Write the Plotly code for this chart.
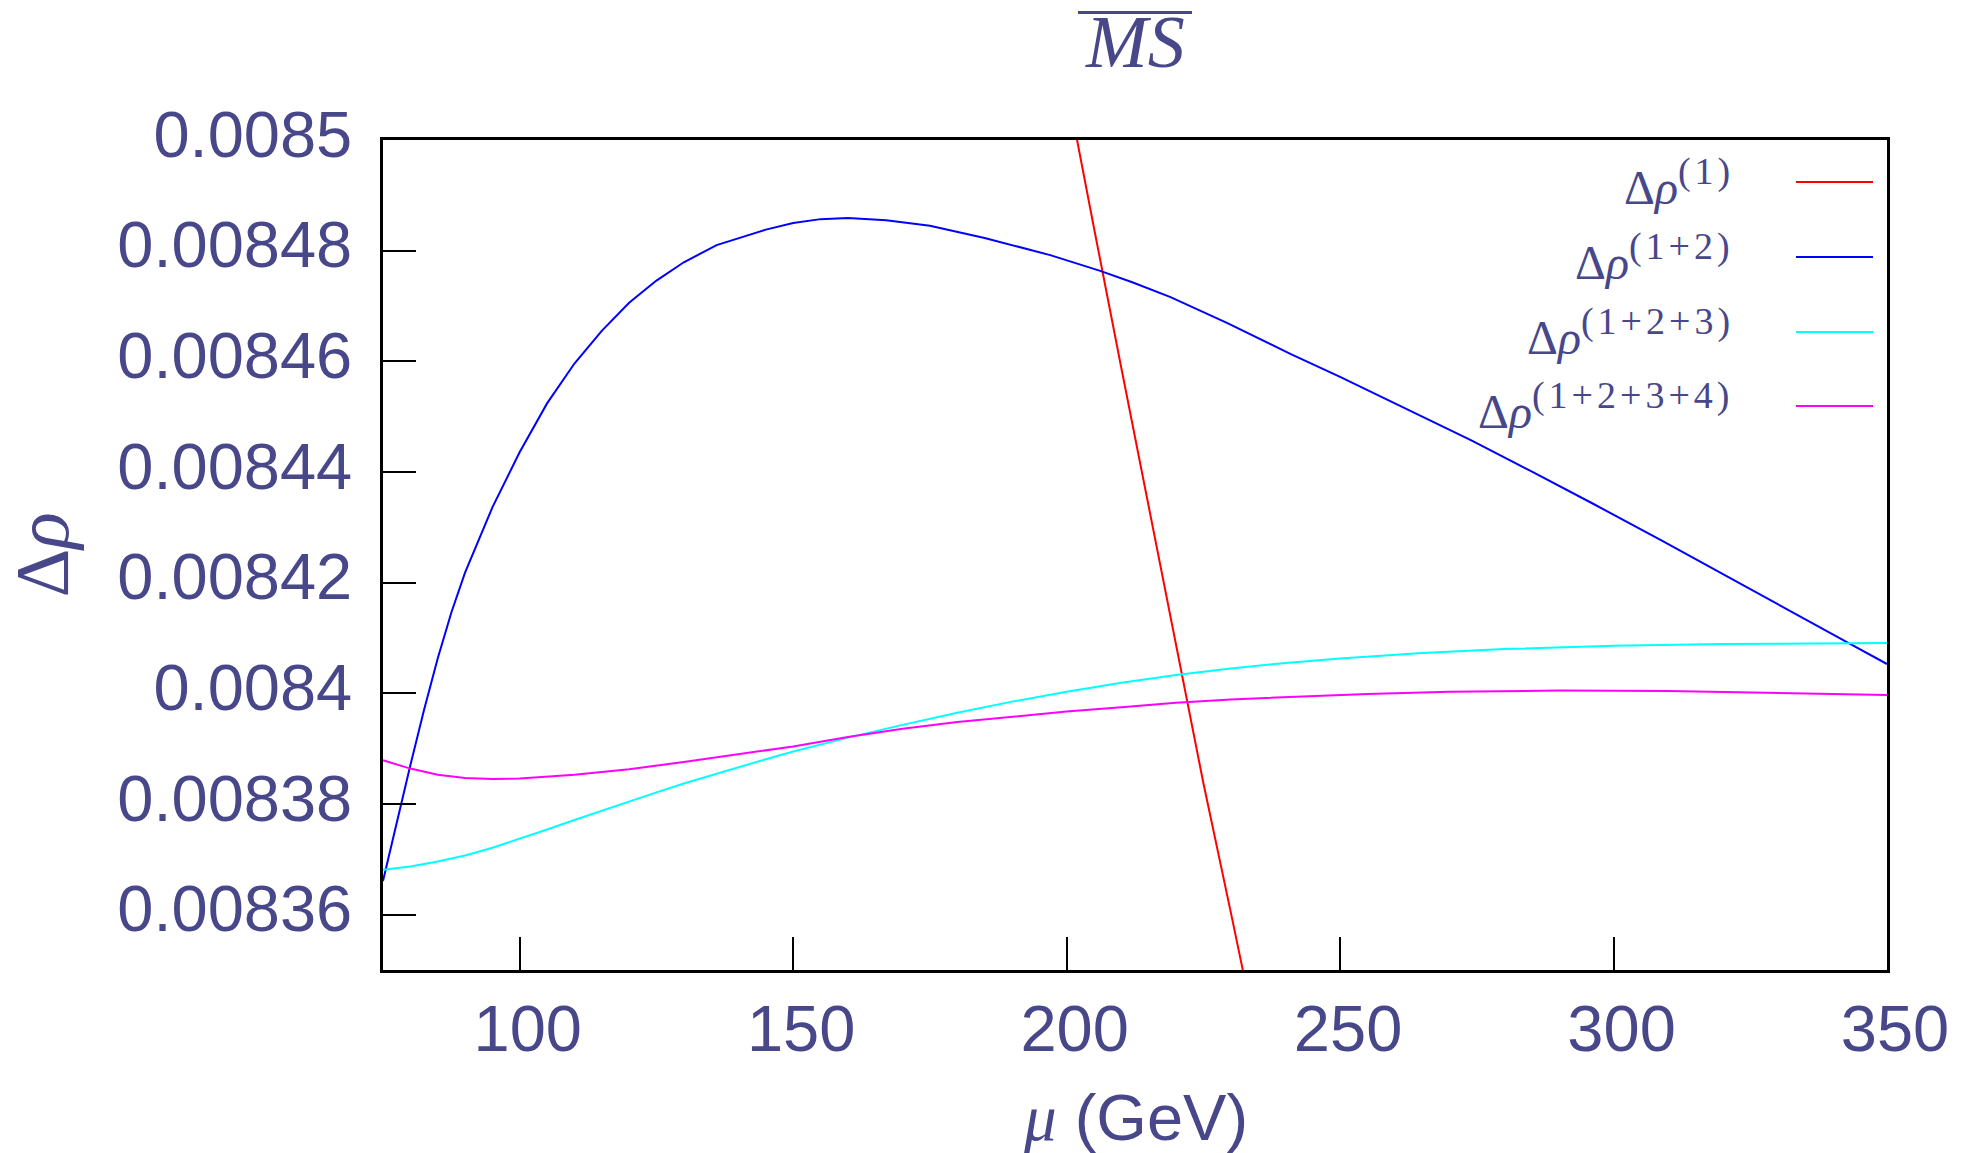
import plotly.graph_objects as go

# ---------------- data ----------------
mu_red = [195, 200, 205, 210, 215, 220, 225, 230, 235, 240]
rho_red = [0.0085355, 0.0085096, 0.0084841, 0.0084588, 0.0084336, 0.0084086,
           0.0083838, 0.0083605, 0.0083365, 0.0083130]

mu_blue = [75.0, 77.5, 80.0, 82.5, 85.0, 87.5, 90.0, 95.0, 100.0, 105.0, 110.0,
           115.0, 120.0, 125.0, 130.0, 136.0, 145.0, 150.0, 155.0, 160.0, 167.0,
           175.0, 185.0, 197.0, 206.0, 212.0, 219.0, 229.4, 241.0, 250.0, 260.0,
           274.0, 285.0, 296.0, 309.0, 322.0, 336.0, 343.5, 350.0]
rho_blue = [0.0083661, 0.0083768, 0.0083870, 0.0083970, 0.0084063, 0.0084146,
            0.0084218, 0.0084336, 0.0084436, 0.0084524, 0.0084596, 0.0084655,
            0.0084706, 0.0084746, 0.0084779, 0.0084810, 0.0084838, 0.0084850,
            0.0084857, 0.0084859, 0.0084855, 0.0084845, 0.0084823, 0.0084792,
            0.0084764, 0.0084743, 0.0084716, 0.0084669, 0.0084613, 0.0084572,
            0.0084524, 0.0084457, 0.0084401, 0.0084344, 0.0084275, 0.0084204,
            0.0084128, 0.0084088, 0.0084053]

mu_cyan = [75, 80, 85, 90, 95, 100, 105, 110, 115, 120, 125, 130, 135, 140, 145,
           150, 155, 160, 170, 180, 190, 200, 210, 220, 230, 240, 250, 265, 280,
           300, 320, 335, 350]
rho_cyan = [0.0083681, 0.0083687, 0.0083696, 0.0083707, 0.0083721, 0.0083737,
            0.0083754, 0.0083771, 0.0083788, 0.0083805, 0.0083821, 0.0083837,
            0.0083852, 0.0083867, 0.0083881, 0.0083895, 0.0083908, 0.0083920,
            0.0083943, 0.0083965, 0.0083985, 0.0084003, 0.0084019, 0.0084033,
            0.0084045, 0.0084055, 0.0084063, 0.0084073, 0.0084080, 0.0084086,
            0.0084089, 0.0084090, 0.0084091]

mu_magenta = [75, 80, 85, 90, 95, 100, 110, 120, 130, 140, 150, 160, 170, 180,
              190, 200, 210, 220, 230, 240, 255, 270, 290, 310, 330, 350]
rho_magenta = [0.0083879, 0.0083864, 0.0083853, 0.0083847, 0.0083845, 0.0083846,
               0.0083853, 0.0083863, 0.0083876, 0.0083890, 0.0083904, 0.0083921,
               0.0083936, 0.0083948, 0.0083958, 0.0083967, 0.0083975, 0.0083983,
               0.0083989, 0.0083993, 0.0083999, 0.0084003, 0.0084005, 0.0084004,
               0.0084001, 0.0083997]

series_sups = ["(1)", "(1+2)", "(1+2+3)", "(1+2+3+4)"]
series_colors = ["#ff0000", "#0000ff", "#00ffff", "#ff00ff"]

x_tick_vals = [100, 150, 200, 250, 300, 350]
x_tick_labels = ["100", "150", "200", "250", "300", "350"]
y_tick_vals = [0.00836, 0.00838, 0.0084, 0.00842, 0.00844, 0.00846, 0.00848, 0.0085]
y_tick_labels = ["0.00836", "0.00838", "0.0084", "0.00842", "0.00844", "0.00846",
                 "0.00848", "0.0085"]

x_range = [75, 350]
y_range = [0.00835, 0.0085]

title_text = "<i>MS</i>"
x_title = "<span style=\"font-family:'Liberation Serif'\"><i>μ</i></span> (GeV)"
y_title = "Δ<i>ρ</i>"

# ---------------- figure ----------------
TXT = "#47478a"
xs = [mu_red, mu_blue, mu_cyan, mu_magenta]
ys = [rho_red, rho_blue, rho_cyan, rho_magenta]
names = ["Δ<i>ρ</i><sup><span style=\"font-size:38px;letter-spacing:4px\">%s</span></sup>" % s
         for s in series_sups]

fig = go.Figure()
for x, y, name, col in zip(xs, ys, names, series_colors):
    fig.add_trace(go.Scatter(x=x, y=y, mode="lines", name=name,
                             line=dict(color=col, width=2), showlegend=False))

axis_common = dict(showline=True, mirror=True, linecolor="black", linewidth=2.5,
                   ticks="inside", ticklen=33, tickwidth=2, tickcolor="black",
                   showgrid=False, zeroline=False, automargin=False,
                   tickfont=dict(family="Liberation Sans", size=65, color=TXT))

fig.update_layout(
    width=1966, height=1153, template="none",
    margin=dict(l=383, r=79, t=140, b=183, pad=0),
    paper_bgcolor="white", plot_bgcolor="white",
    xaxis=dict(range=x_range, tickmode="array", tickvals=x_tick_vals,
               ticktext=x_tick_labels, ticklabelshift=8, ticklabelstandoff=0,
               **axis_common),
    yaxis=dict(range=y_range, tickmode="array", tickvals=y_tick_vals,
               ticktext=y_tick_labels, ticklabelstandoff=15, ticklabelshift=-6,
               **axis_common),
)

# title with overline
fig.add_annotation(text=title_text, xref="paper", yref="paper", x=0.5, y=1,
                   xanchor="center", yanchor="bottom", yshift=55, showarrow=False,
                   font=dict(family="Liberation Serif", size=74, color=TXT))
fig.add_shape(type="line", xref="paper", yref="paper", x0=0.4621, x1=0.5379,
              y0=1.1536, y1=1.1536, line=dict(color=TXT, width=3))

# axis titles
fig.add_annotation(text=x_title, xref="paper", yref="paper", x=0.5, y=-0.1783,
                   xanchor="center", yanchor="middle", showarrow=False,
                   font=dict(family="Liberation Sans", size=65, color=TXT))
fig.add_annotation(text=y_title, xref="paper", yref="paper", x=-0.227, y=0.5,
                   xanchor="center", yanchor="middle", textangle=-90, showarrow=False,
                   font=dict(family="Liberation Serif", size=76, color=TXT))

# legend (gnuplot style: text right-aligned, sample line to its right)
leg_y = [0.9494, 0.8590, 0.7687, 0.6795]
for name, col, ly in zip(names, series_colors, leg_y):
    fig.add_annotation(text=name, xref="paper", yref="paper", x=0.8996, y=ly,
                       xanchor="right", yanchor="middle", showarrow=False,
                       font=dict(family="Liberation Serif", size=48, color=TXT))
    fig.add_shape(type="line", xref="paper", yref="paper", x0=0.9395, x1=0.9907,
                  y0=ly, y1=ly, line=dict(color=col, width=2))

fig.write_html("out.html", config={"displayModeBar": False},
               post_script="document.body.style.margin='0';"
                           "document.body.style.overflow='hidden';")
